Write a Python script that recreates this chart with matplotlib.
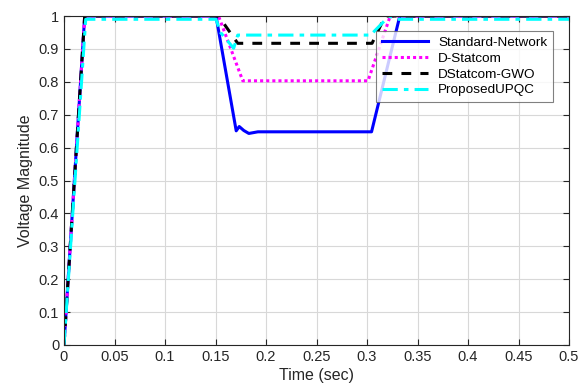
import matplotlib
matplotlib.use("Agg")
import matplotlib.pyplot as plt

plt.rcParams['font.family'] = ['Liberation Sans', 'DejaVu Sans']

# Standard-Network
t_std = [0, 0.0205, 0.1505, 0.1705, 0.1735, 0.178, 0.183, 0.192, 0.3045, 0.3325, 0.5]
v_std = [0, 1.0, 1.0, 0.651, 0.664, 0.652, 0.643, 0.648, 0.648, 1.0, 1.0]

# D-Statcom
t_dst = [0, 0.0205, 0.153, 0.177, 0.301, 0.323, 0.5]
v_dst = [0, 1.0, 1.0, 0.803, 0.803, 1.0, 1.0]

# DStatcom-GWO
t_gwo = [0, 0.0205, 0.153, 0.172, 0.305, 0.318, 0.5]
v_gwo = [0, 1.0, 1.0, 0.917, 0.917, 1.0, 1.0]

# ProposedUPQC
t_upqc = [0, 0.0215, 0.1505, 0.155, 0.168, 0.172, 0.3035, 0.322, 0.33, 0.5]
v_upqc = [0, 0.99, 0.99, 0.95, 0.902, 0.942, 0.942, 1.0, 0.99, 0.99]

labels = ['Standard-Network', 'D-Statcom', 'DStatcom-GWO', 'ProposedUPQC']
xticks = [0, 0.05, 0.1, 0.15, 0.2, 0.25, 0.3, 0.35, 0.4, 0.45, 0.5]
xticklabels = ['0', '0.05', '0.1', '0.15', '0.2', '0.25', '0.3', '0.35', '0.4', '0.45', '0.5']
yticks = [0, 0.1, 0.2, 0.3, 0.4, 0.5, 0.6, 0.7, 0.8, 0.9, 1.0]
yticklabels = ['0', '0.1', '0.2', '0.3', '0.4', '0.5', '0.6', '0.7', '0.8', '0.9', '1']

fig = plt.figure(figsize=(5.86, 3.85), dpi=100)
ax = fig.add_axes([64/586, 40/385, 505/586, 329/385])

ax.plot(t_std, v_std, color='#0000ff', lw=2.2, ls='-', label=labels[0])
ax.plot(t_dst, v_dst, color='#ff00ff', lw=2.2, ls=(0, (1, 1)), label=labels[1])
ax.plot(t_gwo, v_gwo, color='black', lw=2.2, ls=(0, (3.2, 3)), label=labels[2])
ax.plot(t_upqc, v_upqc, color='#00ffff', lw=2.2, ls=(0, (5, 2, 1.5, 2)), label=labels[3])

ax.set_xlim(0, 0.5)
ax.set_ylim(0, 1)
ax.set_xticks(xticks)
ax.set_xticklabels(xticklabels)
ax.set_yticks(yticks)
ax.set_yticklabels(yticklabels)
ax.grid(True, color='#d8d8d8', lw=0.8)
ax.set_axisbelow(True)
ax.tick_params(direction='in', top=True, right=True, labelsize=10.5, length=4, width=0.8, colors='#262626')
for s in ax.spines.values():
    s.set_linewidth(0.8)
    s.set_color('#262626')
ax.set_xlabel('Time (sec)', fontsize=11.5, color='#262626', labelpad=3)
ax.set_ylabel('Voltage Magnitude', fontsize=11.5, color='#262626', labelpad=4)

leg = ax.legend(loc='upper right', bbox_to_anchor=(0.968, 0.954), borderaxespad=0,
                fontsize=9.7, frameon=True, fancybox=False, edgecolor='#606060',
                handlelength=3.4, labelspacing=0.25, borderpad=0.4)
leg.get_frame().set_linewidth(0.8)

fig.savefig('out.png', dpi=100)
